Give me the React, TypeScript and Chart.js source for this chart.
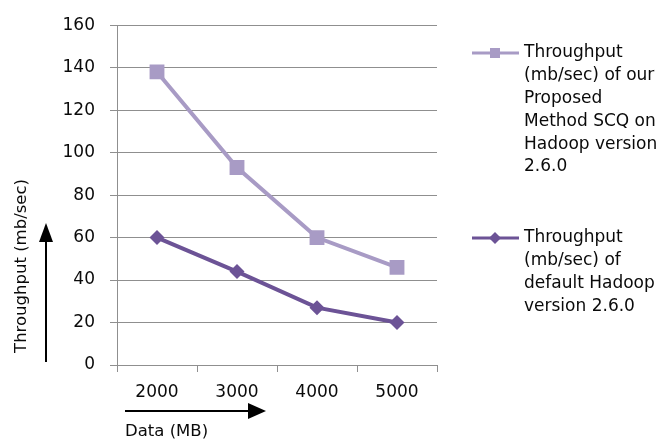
import React, { useEffect, useRef } from 'react';
import { Chart, registerables } from 'chart.js';

Chart.register(...registerables);

const categories = ['2000', '3000', '4000', '5000'];
const proposedValues = [138, 93, 60, 46];
const defaultValues = [60, 44, 27, 20];
const yMin = 0;
const yMax = 160;
const yStep = 20;
const proposedLegend = ['Throughput', '(mb/sec) of our', 'Proposed', 'Method SCQ on', 'Hadoop version', '2.6.0'];
const defaultLegend = ['Throughput', '(mb/sec) of', 'default Hadoop', 'version 2.6.0'];
const yTitle = 'Throughput (mb/sec)';
const xTitle = 'Data (MB)';

const LIGHT = '#A89BC5';
const DARK = '#6C5396';
const TEXT = '#0a0a0a';
const GRID = '#8f8f8f';
const FONT = 'DejaVu Sans';

function arrow(ctx: CanvasRenderingContext2D, x1: number, y1: number, x2: number, y2: number, head: number, half: number) {
  const ang = Math.atan2(y2 - y1, x2 - x1);
  const bx = x2 - Math.cos(ang) * head;
  const by = y2 - Math.sin(ang) * head;
  ctx.beginPath();
  ctx.moveTo(x1, y1);
  ctx.lineTo(bx, by);
  ctx.stroke();
  ctx.beginPath();
  ctx.moveTo(x2, y2);
  ctx.lineTo(bx + Math.sin(ang) * half, by - Math.cos(ang) * half);
  ctx.lineTo(bx - Math.sin(ang) * half, by + Math.cos(ang) * half);
  ctx.closePath();
  ctx.fill();
}

const overlay = {
  id: 'overlay',
  afterDraw(chart: any) {
    const ctx: CanvasRenderingContext2D = chart.ctx;
    ctx.save();
    const entries = [
      { lines: proposedLegend, color: LIGHT, style: 'rect', y: 53 },
      { lines: defaultLegend, color: DARK, style: 'diamond', y: 238 },
    ];
    for (const e of entries) {
      ctx.strokeStyle = e.color;
      ctx.fillStyle = e.color;
      ctx.lineWidth = 3;
      ctx.beginPath();
      ctx.moveTo(472, e.y);
      ctx.lineTo(519, e.y);
      ctx.stroke();
      ctx.beginPath();
      if (e.style === 'rect') {
        ctx.rect(490, e.y - 5, 10, 10);
      } else {
        ctx.moveTo(495, e.y - 6);
        ctx.lineTo(501, e.y);
        ctx.lineTo(495, e.y + 6);
        ctx.lineTo(489, e.y);
        ctx.closePath();
      }
      ctx.fill();
      ctx.fillStyle = TEXT;
      ctx.font = `17px "${FONT}"`;
      ctx.textAlign = 'left';
      ctx.textBaseline = 'middle';
      e.lines.forEach((t, i) => ctx.fillText(t, 524, e.y + i * 22.8));
    }
    ctx.save();
    ctx.translate(22, 266);
    ctx.rotate(-Math.PI / 2);
    ctx.font = `16.5px "${FONT}"`;
    ctx.textAlign = 'center';
    ctx.textBaseline = 'middle';
    ctx.fillStyle = TEXT;
    ctx.fillText(yTitle, 0, 0);
    ctx.restore();
    ctx.font = `16.5px "${FONT}"`;
    ctx.textAlign = 'left';
    ctx.textBaseline = 'middle';
    ctx.fillStyle = TEXT;
    ctx.fillText(xTitle, 125, 432);
    ctx.strokeStyle = '#000';
    ctx.fillStyle = '#000';
    ctx.lineWidth = 2;
    arrow(ctx, 46, 362, 46, 223, 19, 7);
    arrow(ctx, 125, 411, 266, 411, 18, 8);
    ctx.restore();
  },
};

export default function App() {
  const ref = useRef<HTMLCanvasElement>(null);
  useEffect(() => {
    if (!ref.current) return;
    Chart.defaults.font.family = FONT;
    const chart = new Chart(ref.current, {
      type: 'line',
      data: {
        labels: categories,
        datasets: [
          {
            label: proposedLegend.join(' '),
            data: proposedValues,
            borderColor: LIGHT,
            backgroundColor: LIGHT,
            borderWidth: 4,
            pointStyle: 'rect',
            pointRadius: 10.5,
            pointBorderWidth: 0,
            tension: 0,
          },
          {
            label: defaultLegend.join(' '),
            data: defaultValues,
            borderColor: DARK,
            backgroundColor: DARK,
            borderWidth: 4,
            pointStyle: 'rectRot',
            pointRadius: 7.5,
            pointBorderWidth: 0,
            tension: 0,
          },
        ],
      },
      options: {
        animation: false,
        responsive: true,
        maintainAspectRatio: false,
        layout: { padding: { top: 15, right: 234, left: 0, bottom: 0 } },
        plugins: { legend: { display: false }, tooltip: { enabled: false } },
        scales: {
          x: {
            type: 'category',
            offset: true,
            grid: { offset: true, drawOnChartArea: false, drawTicks: true, tickLength: 7, color: GRID, lineWidth: 1 },
            border: { color: GRID, width: 1 },
            ticks: { padding: 10, color: TEXT, font: { size: 17, family: FONT } },
            afterFit(s: any) { s.height = 80; },
          },
          y: {
            min: yMin,
            max: yMax,
            grid: { color: GRID, tickLength: 7, lineWidth: 1 },
            border: { color: GRID, width: 1 },
            ticks: { stepSize: yStep, padding: 15, color: TEXT, font: { size: 17, family: FONT } },
            afterFit(s: any) { s.width = 117; },
          },
        },
      },
      plugins: [overlay],
    });
    return () => chart.destroy();
  }, []);
  return (
    <div style={{ position: 'fixed', left: 0, top: 0, width: 671, height: 445, background: '#fff' }}>
      <canvas ref={ref} />
    </div>
  );
}
